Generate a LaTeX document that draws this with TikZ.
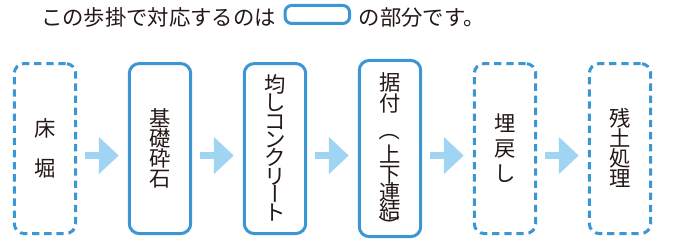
\documentclass[tikz,border=0pt]{standalone}
\usepackage{fontspec}
\usepackage{graphicx}
\usetikzlibrary{positioning,arrows.meta}
\newfontfamily\jpfont{Noto Sans CJK JP}
\definecolor{BoxBlue}{HTML}{3C96D4}
\definecolor{ArrowBlue}{HTML}{9FD4F2}
\definecolor{TextDark}{HTML}{231815}
\newcommand{\vfont}[1]{\jpfont\fontsize{16pt}{#1}\selectfont\lineskiplimit=-\maxdimen}
\newcommand{\cjkstrut}{\rule[-0.12em]{0pt}{1em}}
\newcommand{\vturn}[2]{\rotatebox[origin=c]{#1}{\raisebox{0pt}[0.88em][0.12em]{#2}}}
\tikzset{
  stepbox/.style={draw=BoxBlue, line width=2.25pt, rounded corners=7.5pt, minimum width=46.1pt, minimum height=127.5pt, inner sep=0pt, align=center, text=TextDark},
  mainbox/.style={stepbox},
  sidebox/.style={stepbox, dash pattern=on 5.5pt off 3.6pt},
  flowarrow/.style={-{Triangle[length=15pt,width=27pt]}, line width=5.25pt, draw=ArrowBlue, shorten <=6pt, shorten >=6.75pt}
}
\begin{document}
\begin{tikzpicture}
    \useasboundingbox (0,0) rectangle (505.5pt,-183pt);
    % Heading
    \node [font=\jpfont\fontsize{16pt}{19pt}\selectfont, text=TextDark, anchor=west, inner sep=0pt] (lead) at (30.75pt,-12.75pt) {この歩掛で対応するのは};
    \node [draw=BoxBlue, line width=2.25pt, rounded corners=5pt, minimum width=48.4pt, minimum height=13.5pt, inner sep=0pt, right=5.5pt of lead, yshift=1.9pt] (keybox) {};
    \node [font=\jpfont\fontsize{16pt}{19pt}\selectfont, text=TextDark, inner sep=0pt, right=5.6pt of keybox, yshift=-1.9pt] (tail) {の部分です。};

    % Steps
    \node [sidebox, font=\vfont{30.4pt}] (floor) at (33.75pt,-111.4pt) {\cjkstrut 床\\堀\cjkstrut};
    \node [mainbox, font=\vfont{15.1pt}, right=37.9pt of floor] (gravel) {\cjkstrut 基\\礎\\砕\\石\cjkstrut};
    \node [mainbox, font=\vfont{13.7pt}, right=37.9pt of gravel] (leveling) {\cjkstrut 均\\し\\コ\\ン\\ク\\リ\\\vturn{90}{ー}\\ト\cjkstrut};
    \node [mainbox, font=\vfont{9.7pt}, right=37.9pt of leveling] (setting) {\rule{0pt}{22.9pt}据\\[5.7pt]付\\[10.3pt]\vturn{-90}{（}\\[8.2pt]上\\[5.3pt]下\\[3.8pt]連\\[3.8pt]結\\[2.3pt]\vturn{-90}{）}\cjkstrut};
    \node [sidebox, font=\vfont{18.75pt}, right=37.9pt of setting] (backfill) {\cjkstrut 埋\\戻\\し\cjkstrut};
    \node [sidebox, font=\vfont{15.1pt}, right=37.9pt of backfill] (soil) {\cjkstrut 残\\土\\処\\理\cjkstrut};

    % Arrows
    \draw [flowarrow] ([yshift=-5.25pt]floor.east) -- ([yshift=-5.25pt]gravel.west);
    \draw [flowarrow] ([yshift=-5.25pt]gravel.east) -- ([yshift=-5.25pt]leveling.west);
    \draw [flowarrow] ([yshift=-5.25pt]leveling.east) -- ([yshift=-5.25pt]setting.west);
    \draw [flowarrow] ([yshift=-5.25pt]setting.east) -- ([yshift=-5.25pt]backfill.west);
    \draw [flowarrow] ([yshift=-5.25pt]backfill.east) -- ([yshift=-5.25pt]soil.west);
\end{tikzpicture}
\end{document}
